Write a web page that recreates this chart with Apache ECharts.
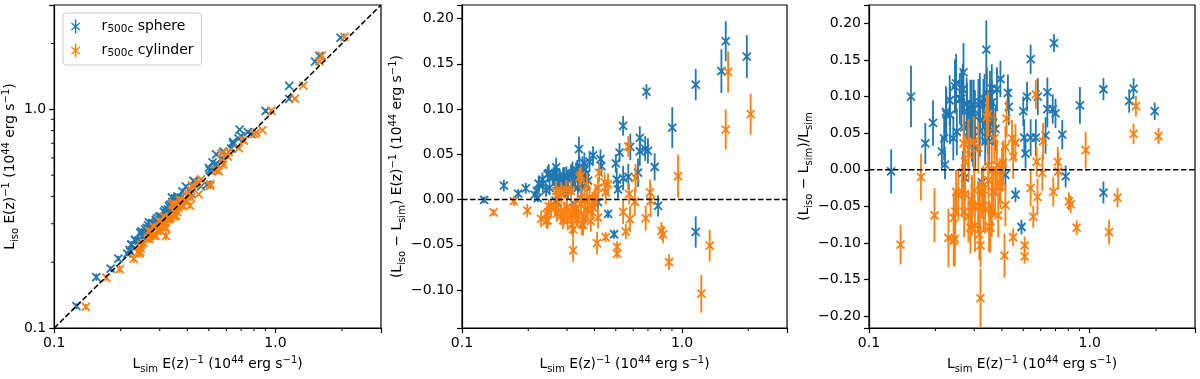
<!DOCTYPE html>
<html>
<head>
    <meta charset="utf-8">
    <title>Liso vs Lsim</title>
    <script src="https://cdn.jsdelivr.net/npm/echarts@6/dist/echarts.min.js"></script>
    <style>
        body { margin: 0; background: #fff; }
    </style>
</head>
<body>
<div id="chart" style="width: 1200px;height:379px;"></div>

<script>
    // r500c sphere (blue)
    var sphLsim = [0.126, 0.155, 0.180, 0.195, 0.214, 0.219, 0.221, 0.223, 0.233, 0.241,
        0.248, 0.268, 0.266, 0.262, 0.270, 0.266, 0.272, 0.278, 0.283, 0.288,
        0.293, 0.296, 0.298, 0.303, 0.318, 0.325, 0.327, 0.334, 0.340, 0.342,
        0.345, 0.350, 0.353, 0.361, 0.365, 0.374, 0.380, 0.394, 0.415, 0.426,
        0.430, 0.461, 0.500, 0.505, 0.512, 0.491, 0.520, 0.540, 0.540, 0.582,
        0.570, 0.631, 0.643, 0.643, 0.689, 0.680, 0.700, 0.751, 0.778, 0.903,
        1.154, 1.154, 1.510, 1.580, 1.970,
        0.224, 0.232, 0.245, 0.250, 0.258, 0.277, 0.282, 0.292, 0.302, 0.313,
        0.330, 0.355, 0.360, 0.348, 0.336, 0.318, 0.292]
    var sphLiso = [0.126, 0.171, 0.187, 0.208, 0.219, 0.228, 0.223, 0.241, 0.251, 0.251,
        0.277, 0.304, 0.295, 0.287, 0.286, 0.265, 0.269, 0.300, 0.298, 0.312,
        0.307, 0.306, 0.323, 0.312, 0.347, 0.320, 0.349, 0.366, 0.396, 0.378,
        0.363, 0.364, 0.388, 0.394, 0.388, 0.395, 0.422, 0.443, 0.412, 0.471,
        0.467, 0.445, 0.540, 0.527, 0.523, 0.453, 0.572, 0.622, 0.564, 0.640,
        0.595, 0.661, 0.711, 0.696, 0.808, 0.736, 0.754, 0.787, 0.771, 0.983,
        1.281, 1.118, 1.652, 1.755, 2.128,
        0.241, 0.254, 0.273, 0.263, 0.283, 0.302, 0.299, 0.318, 0.324, 0.341,
        0.360, 0.386, 0.400, 0.365, 0.349, 0.335, 0.305]
    var sphDiff = [-0.0003, 0.0155, 0.0065, 0.0125, 0.0054, 0.0094, 0.0015, 0.0176, 0.0175, 0.0104,
        0.0293, 0.0356, 0.0293, 0.0254, 0.0157, -0.0011, -0.0030, 0.0220, 0.0147, 0.0239,
        0.0141, 0.0101, 0.0247, 0.0088, 0.0293, -0.0055, 0.0222, 0.0321, 0.0558, 0.0359,
        0.0179, 0.0137, 0.0353, 0.0332, 0.0234, 0.0209, 0.0418, 0.0489, -0.0029, 0.0447,
        0.0370, -0.0157, 0.0400, 0.0222, 0.0113, -0.0383, 0.0520, 0.0815, 0.0238, 0.0582,
        0.0251, 0.0297, 0.0682, 0.0534, 0.1192, 0.0564, 0.0539, 0.0360, -0.0070, 0.0795,
        0.1270, -0.0358, 0.1420, 0.1750, 0.1580,
        0.017, 0.022, 0.028, 0.013, 0.025, 0.025, 0.017, 0.026, 0.022, 0.028,
        0.030, 0.031, 0.040, 0.017, 0.013, 0.017, 0.013]
    var sphDiffErr = [0.0038, 0.0065, 0.0050, 0.0060, 0.0043, 0.0066, 0.0044, 0.0078, 0.0093, 0.0072,
        0.0099, 0.0107, 0.0093, 0.0105, 0.0108, 0.0080, 0.0082, 0.0111, 0.0099, 0.0115,
        0.0103, 0.0089, 0.0119, 0.0091, 0.0127, 0.0065, 0.0114, 0.0117, 0.0136, 0.0120,
        0.0104, 0.0105, 0.0124, 0.0108, 0.0110, 0.0112, 0.0114, 0.0099, 0.0083, 0.0107,
        0.0108, 0.0046, 0.0100, 0.0126, 0.0102, 0.0049, 0.0104, 0.0108, 0.0135, 0.0146,
        0.0143, 0.0158, 0.0129, 0.0161, 0.0083, 0.0136, 0.0140, 0.0150, 0.0117, 0.0226,
        0.0173, 0.0173, 0.0242, 0.0221, 0.0236,
        0.008, 0.008, 0.009, 0.008, 0.009, 0.010, 0.010, 0.010, 0.011, 0.011,
        0.011, 0.011, 0.012, 0.011, 0.011, 0.011, 0.010]
    var sphFrac = [-0.002, 0.100, 0.036, 0.064, 0.025, 0.043, 0.007, 0.079, 0.075, 0.043,
        0.118, 0.133, 0.110, 0.097, 0.058, -0.004, -0.011, 0.079, 0.052, 0.083,
        0.048, 0.034, 0.083, 0.029, 0.092, -0.017, 0.068, 0.096, 0.164, 0.105,
        0.052, 0.039, 0.100, 0.092, 0.064, 0.056, 0.110, 0.124, -0.007, 0.105,
        0.086, -0.034, 0.080, 0.044, 0.022, -0.078, 0.100, 0.151, 0.044, 0.100,
        0.044, 0.047, 0.106, 0.083, 0.173, 0.083, 0.077, 0.048, -0.009, 0.088,
        0.110, -0.031, 0.094, 0.111, 0.080,
        0.076, 0.095, 0.114, 0.052, 0.097, 0.090, 0.060, 0.089, 0.073, 0.089,
        0.091, 0.087, 0.111, 0.049, 0.039, 0.053, 0.045]
    var sphFracErr = [0.030, 0.042, 0.028, 0.031, 0.020, 0.030, 0.020, 0.035, 0.040, 0.030,
        0.040, 0.040, 0.035, 0.040, 0.040, 0.030, 0.030, 0.040, 0.035, 0.040,
        0.035, 0.030, 0.040, 0.030, 0.040, 0.020, 0.035, 0.035, 0.040, 0.035,
        0.030, 0.030, 0.035, 0.030, 0.030, 0.030, 0.030, 0.025, 0.020, 0.025,
        0.025, 0.010, 0.020, 0.025, 0.020, 0.010, 0.020, 0.020, 0.025, 0.025,
        0.025, 0.025, 0.020, 0.025, 0.012, 0.020, 0.020, 0.020, 0.015, 0.025,
        0.015, 0.015, 0.016, 0.014, 0.012,
        0.036, 0.034, 0.037, 0.032, 0.035, 0.036, 0.035, 0.034, 0.036, 0.035,
        0.033, 0.031, 0.033, 0.032, 0.033, 0.035, 0.034]

    // r500c cylinder (orange)
    var cylLsim = [0.139, 0.172, 0.198, 0.229, 0.242, 0.242, 0.246, 0.248, 0.268, 0.264,
        0.270, 0.288, 0.298, 0.283, 0.293, 0.300, 0.316, 0.320, 0.320, 0.312,
        0.325, 0.330, 0.342, 0.347, 0.350, 0.347, 0.360, 0.365, 0.370, 0.380,
        0.385, 0.390, 0.400, 0.411, 0.420, 0.445, 0.450, 0.450, 0.507, 0.507,
        0.540, 0.555, 0.570, 0.575, 0.580, 0.610, 0.615, 0.684, 0.716, 0.720,
        0.805, 0.820, 0.873, 0.959, 1.224, 1.336, 1.580, 1.620, 2.050,
        0.254, 0.272, 0.282, 0.292, 0.302, 0.318, 0.330, 0.336, 0.348, 0.360,
        0.373, 0.394, 0.405, 0.415, 0.461, 0.313, 0.282, 0.272, 0.355, 0.245, 0.415]
    var cylLiso = [0.125, 0.170, 0.186, 0.208, 0.219, 0.226, 0.232, 0.241, 0.278, 0.256,
        0.255, 0.265, 0.309, 0.289, 0.278, 0.292, 0.288, 0.287, 0.264, 0.296,
        0.315, 0.314, 0.367, 0.373, 0.323, 0.349, 0.360, 0.354, 0.386, 0.382,
        0.361, 0.383, 0.400, 0.363, 0.449, 0.464, 0.458, 0.409, 0.455, 0.447,
        0.527, 0.520, 0.629, 0.581, 0.559, 0.608, 0.639, 0.664, 0.724, 0.719,
        0.770, 0.782, 0.804, 0.985, 1.120, 1.285, 1.657, 1.761, 2.144,
        0.245, 0.263, 0.264, 0.280, 0.279, 0.302, 0.321, 0.318, 0.343, 0.339,
        0.362, 0.385, 0.409, 0.428, 0.478, 0.323, 0.292, 0.275, 0.327, 0.222, 0.395]
    var cylDiff = [-0.0142, -0.0017, -0.0123, -0.0213, -0.0235, -0.0160, -0.0140, -0.0074, 0.0096, -0.0079,
        -0.0154, -0.0228, 0.0113, 0.0059, -0.0147, -0.0084, -0.0278, -0.0330, -0.0560, -0.0156,
        -0.0104, -0.0165, 0.0246, 0.0264, -0.0270, 0.0021, -0.0004, -0.0110, 0.0159, 0.0023,
        -0.0239, -0.0066, 0.0000, -0.0481, 0.0294, 0.0191, 0.0081, -0.0414, -0.0522, -0.0598,
        -0.0135, -0.0355, 0.0587, 0.0063, -0.0215, -0.0024, 0.0240, -0.0205, 0.0079, -0.0014,
        -0.0346, -0.0385, -0.0690, 0.0259, -0.1040, -0.0508, 0.0774, 0.1410, 0.0943,
        -0.0087, -0.009, -0.018, -0.012, -0.023, -0.016, -0.009, -0.018, -0.005, -0.021,
        -0.011, -0.009, 0.004, 0.013, 0.017, 0.0095, 0.0095, 0.003, -0.028, -0.023, -0.020]
    var cylDiffErr = [0.0038, 0.0055, 0.0073, 0.0092, 0.0085, 0.0085, 0.0074, 0.0074, 0.0107, 0.0092,
        0.0095, 0.0101, 0.0104, 0.0099, 0.0117, 0.0105, 0.0111, 0.0096, 0.0128, 0.0109,
        0.0114, 0.0116, 0.0103, 0.0104, 0.0123, 0.0121, 0.0126, 0.0128, 0.0130, 0.0133,
        0.0116, 0.0117, 0.0120, 0.0123, 0.0105, 0.0111, 0.0135, 0.0054, 0.0061, 0.0051,
        0.0135, 0.0083, 0.0114, 0.0115, 0.0145, 0.0153, 0.0154, 0.0137, 0.0143, 0.0180,
        0.0097, 0.0098, 0.0087, 0.0240, 0.0208, 0.0174, 0.0221, 0.0227, 0.0226,
        0.009, 0.010, 0.010, 0.010, 0.011, 0.011, 0.011, 0.011, 0.012, 0.012,
        0.012, 0.012, 0.012, 0.012, 0.012, 0.011, 0.010, 0.010, 0.012, 0.009, 0.012]
    var cylFrac = [-0.102, -0.010, -0.062, -0.093, -0.097, -0.066, -0.057, -0.030, 0.036, -0.030,
        -0.057, -0.079, 0.038, 0.021, -0.050, -0.028, -0.088, -0.103, -0.175, -0.050,
        -0.032, -0.050, 0.072, 0.076, -0.077, 0.006, -0.001, -0.030, 0.043, 0.006,
        -0.062, -0.017, 0.000, -0.117, 0.070, 0.043, 0.018, -0.092, -0.103, -0.118,
        -0.025, -0.064, 0.103, 0.011, -0.037, -0.004, 0.039, -0.030, 0.011, -0.002,
        -0.043, -0.047, -0.079, 0.027, -0.085, -0.038, 0.049, 0.087, 0.046,
        -0.034, -0.033, -0.064, -0.041, -0.076, -0.050, -0.027, -0.054, -0.014, -0.058,
        -0.029, -0.023, 0.010, 0.031, 0.037, 0.030, 0.034, 0.011, -0.079, -0.094, -0.048]
    var cylFracErr = [0.027, 0.032, 0.037, 0.040, 0.035, 0.035, 0.030, 0.030, 0.040, 0.035,
        0.035, 0.035, 0.035, 0.035, 0.040, 0.035, 0.035, 0.030, 0.040, 0.035,
        0.035, 0.035, 0.030, 0.030, 0.035, 0.035, 0.035, 0.035, 0.035, 0.035,
        0.030, 0.030, 0.030, 0.030, 0.025, 0.025, 0.030, 0.012, 0.012, 0.010,
        0.025, 0.015, 0.020, 0.020, 0.025, 0.025, 0.025, 0.020, 0.020, 0.025,
        0.012, 0.012, 0.010, 0.025, 0.017, 0.013, 0.014, 0.014, 0.011,
        0.035, 0.037, 0.035, 0.034, 0.036, 0.035, 0.033, 0.033, 0.034, 0.033,
        0.032, 0.030, 0.030, 0.029, 0.026, 0.035, 0.035, 0.037, 0.034, 0.037, 0.029]

    var minorLogTicks = [0.2, 0.3, 0.4, 0.5, 0.6, 0.7, 0.8, 0.9, 2]
    var oneToOne = [[0.1, 0.1], [3, 3]]
    var zeroLine = [[0.1, 0], [3, 0]]

    var BLUE = '#1f77b4'
    var ORANGE = '#ff7f0e'
    var FONT = 'DejaVu Sans'

    function pts(xs, ys, es) {
        return xs.map(function (x, i) { return [x, ys[i], es[i]] })
    }

    // errorbar + 'x' marker
    function renderErr(params, api) {
        var x = api.value(0), y = api.value(1), e = api.value(2)
        var c = api.coord([x, y])
        var hi = api.coord([x, y + e])
        var lo = api.coord([x, y - e])
        var s = 4
        var st = {stroke: api.visual('color'), lineWidth: 1.8}
        return {
            type: 'group', children: [
                {type: 'line', shape: {x1: c[0], y1: hi[1], x2: c[0], y2: lo[1]}, style: st},
                {type: 'line', shape: {x1: c[0] - s, y1: c[1] - s, x2: c[0] + s, y2: c[1] + s}, style: st},
                {type: 'line', shape: {x1: c[0] - s, y1: c[1] + s, x2: c[0] + s, y2: c[1] - s}, style: st}
            ]
        }
    }

    function renderMinorX(params, api) {
        var p = api.coord([api.value(0), api.value(1)])
        var b = params.coordSys.y + params.coordSys.height
        return {type: 'line', shape: {x1: p[0], y1: b, x2: p[0], y2: b + 3}, style: {stroke: '#000', lineWidth: 1}}
    }

    function renderMinorY(params, api) {
        var p = api.coord([api.value(0), api.value(1)])
        var l = params.coordSys.x
        return {type: 'line', shape: {x1: l - 3, y1: p[1], x2: l, y2: p[1]}, style: {stroke: '#000', lineWidth: 1}}
    }

    function errSeries(name, color, idx, data) {
        return {
            type: 'custom', name: name, xAxisIndex: idx, yAxisIndex: idx,
            data: data, renderItem: renderErr, itemStyle: {color: color},
            encode: {x: 0, y: 1}, z: 2, silent: true
        }
    }

    function dashSeries(idx, data) {
        return {
            type: 'line', xAxisIndex: idx, yAxisIndex: idx, data: data, symbol: 'none', silent: true,
            lineStyle: {color: '#000', width: 1.5, type: [5.5, 2.5]}, z: 3
        }
    }

    function logLabel(v) {
        if (Math.abs(v - 0.1) < 1e-6) return '0.1'
        if (Math.abs(v - 1) < 1e-6) return '1.0'
        return ''
    }

    function linLabel(v) {
        var r = Math.round(v * 20)
        if (Math.abs(v * 20 - r) > 1e-6) return ''
        return (r / 20).toFixed(2).replace('-', '\u2212')
    }

    var richName = {
        sub: {fontFamily: FONT, fontSize: 10, lineHeight: 10, verticalAlign: 'bottom', color: '#000'},
        sup: {fontFamily: FONT, fontSize: 10, lineHeight: 10, verticalAlign: 'top', color: '#000'}
    }
    var nameStyle = {fontFamily: FONT, fontSize: 13.8, color: '#000', lineHeight: 19, rich: richName}
    var unitText = ' E(z){sup|\u22121} (10{sup|44} erg s{sup|\u22121})'
    var xName = 'L{sub|sim}' + unitText

    function baseAxis(idx) {
        return {
            gridIndex: idx,
            splitLine: {show: false},
            axisLine: {onZero: false, lineStyle: {color: '#000', width: 1.2}},
            axisTick: {length: 5, lineStyle: {color: '#000', width: 1.2}},
            axisLabel: {margin: 8, fontFamily: FONT, fontSize: 14, color: '#000'},
            nameLocation: 'middle',
            nameTextStyle: nameStyle
        }
    }

    function logAxis(idx, name, gap, isY) {
        var a = baseAxis(idx)
        a.type = 'log'
        a.logBase = 10
        a.min = 0.1
        a.max = 3
        a.axisLabel.formatter = logLabel
        a.name = name
        a.nameGap = gap
        if (isY) a.nameRotate = 90
        return a
    }

    function linAxis(idx, min, max, split, name, gap) {
        var a = baseAxis(idx)
        a.type = 'value'
        a.min = min
        a.max = max
        a.splitNumber = split
        a.axisLabel.formatter = linLabel
        a.name = name
        a.nameGap = gap
        a.nameRotate = 90
        return a
    }

    var gridStyle = {show: true, borderColor: '#000', borderWidth: 1.2, backgroundColor: 'transparent'}
    var legendIcon = 'path://M9,0L11,0L11,20L9,20Z M3.4,5.8L4.6,4.2L16.6,14.2L15.4,15.8Z M4.6,15.8L3.4,14.2L15.4,4.2L16.6,5.8Z'

    var myChart = echarts.init(document.getElementById('chart'))

    myChart.setOption({
        animation: false,
        textStyle: {fontFamily: FONT},
        grid: [
            Object.assign({left: 54, top: 5, width: 327, height: 327}, gridStyle),
            Object.assign({left: 462, top: 5, width: 325, height: 327}, gridStyle),
            Object.assign({left: 869, top: 5, width: 326, height: 327}, gridStyle)
        ],
        xAxis: [
            logAxis(0, xName, 25),
            logAxis(1, xName, 25),
            logAxis(2, xName, 25)
        ],
        yAxis: [
            logAxis(0, 'L{sub|iso}' + unitText, 33, true),
            linAxis(1, -0.142, 0.215, 7, '(L{sub|iso} \u2212 L{sub|sim})' + unitText, 55),
            linAxis(2, -0.216, 0.225, 9, '(L{sub|iso} \u2212 L{sub|sim})/L{sub|sim}', 54)
        ],
        legend: {
            left: 63, top: 13, orient: 'vertical',
            itemWidth: 22, itemHeight: 14, itemGap: 7,
            padding: [5, 8, 6, 8],
            borderColor: '#cccccc', borderWidth: 1, borderRadius: 3,
            backgroundColor: 'rgba(255,255,255,0.8)',
            data: [
                {name: 'r500c sphere', icon: legendIcon},
                {name: 'r500c cylinder', icon: legendIcon}
            ],
            formatter: function (n) {
                return '{g|}r{s|500c} ' + n.split(' ')[1]
            },
            textStyle: {
                fontFamily: FONT, fontSize: 14, color: '#000', lineHeight: 17,
                rich: {
                    g: {width: 10},
                    s: {fontFamily: FONT, fontSize: 10.5, lineHeight: 10, verticalAlign: 'bottom', color: '#000'}
                }
            }
        },
        series: [
            errSeries('r500c sphere', BLUE, 0, pts(sphLsim, sphLiso, sphDiffErr)),
            errSeries('r500c cylinder', ORANGE, 0, pts(cylLsim, cylLiso, cylDiffErr)),
            dashSeries(0, oneToOne),

            errSeries('r500c sphere', BLUE, 1, pts(sphLsim, sphDiff, sphDiffErr)),
            errSeries('r500c cylinder', ORANGE, 1, pts(cylLsim, cylDiff, cylDiffErr)),
            dashSeries(1, zeroLine),

            errSeries('r500c sphere', BLUE, 2, pts(sphLsim, sphFrac, sphFracErr)),
            errSeries('r500c cylinder', ORANGE, 2, pts(cylLsim, cylFrac, cylFracErr)),
            dashSeries(2, zeroLine),

            // minor ticks of the log axes
            {type: 'custom', xAxisIndex: 0, yAxisIndex: 0, silent: true, renderItem: renderMinorX,
                data: minorLogTicks.map(function (v) { return [v, 1] })},
            {type: 'custom', xAxisIndex: 0, yAxisIndex: 0, silent: true, renderItem: renderMinorY,
                data: minorLogTicks.map(function (v) { return [1, v] })},
            {type: 'custom', xAxisIndex: 1, yAxisIndex: 1, silent: true, renderItem: renderMinorX,
                data: minorLogTicks.map(function (v) { return [v, 0] })},
            {type: 'custom', xAxisIndex: 2, yAxisIndex: 2, silent: true, renderItem: renderMinorX,
                data: minorLogTicks.map(function (v) { return [v, 0] })}
        ]
    })
</script>
</body>
</html>
